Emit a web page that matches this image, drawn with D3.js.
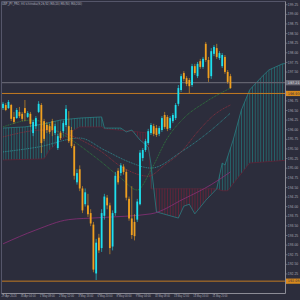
<!DOCTYPE html>
<html>
<head>
<meta charset="utf-8">
<script src="https://cdn.jsdelivr.net/npm/d3@7"></script>
<style>
  html, body { margin: 0; padding: 0; background: #2c2d3c; }
  svg { display: block; }
</style>
</head>
<body>
<script>
// H4 candles
const opens = [
  196.55, 196.63, 196.55, 196.63, 196.32, 196.29, 196.45, 196.40, 196.55, 196.32,
  196.40, 195.90, 196.08, 196.45, 196.63, 196.21, 196.11, 196.08, 196.21, 195.90,
  195.51, 195.90, 195.95, 196.11, 196.08, 195.98, 195.56, 194.62, 194.96, 194.46,
  194.05, 194.02, 193.82, 193.52, 192.25, 193.18, 192.91, 193.75, 194.22, 194.02,
  192.95, 193.82, 194.92, 194.86, 195.03, 194.89, 194.19, 193.68, 193.59, 193.65,
  194.05, 195.25, 195.46, 195.64, 195.90, 196.08, 196.03, 195.88, 195.98, 196.37,
  196.32, 196.03, 196.21, 196.29, 196.66, 197.02, 197.46, 197.33, 197.28, 197.15,
  197.64, 197.38, 197.77, 197.62, 198.22, 197.80, 197.38, 197.96, 198.11, 197.85,
  197.64, 197.88, 197.49, 197.38
];
const highs = [
  196.71, 196.68, 196.76, 196.66, 196.45, 196.55, 196.58, 196.45, 196.76, 196.47,
  196.45, 196.24, 196.34, 196.73, 196.68, 196.27, 196.19, 196.14, 196.27, 196.14,
  195.88, 195.95, 196.21, 196.63, 196.47, 196.06, 195.62, 194.96, 195.06, 194.52,
  194.46, 194.32, 193.92, 193.59, 193.15, 193.28, 193.92, 194.32, 194.29, 194.09,
  193.89, 194.89, 194.99, 195.12, 195.09, 194.96, 194.25, 194.52, 193.79, 194.19,
  195.46, 195.51, 195.75, 196.01, 196.16, 196.14, 196.11, 196.08, 196.34, 196.45,
  196.37, 196.34, 196.42, 196.68, 197.15, 197.44, 197.51, 197.38, 197.33, 197.70,
  197.70, 197.75, 197.83, 197.88, 198.27, 197.88, 198.11, 198.19, 198.22, 198.03,
  197.98, 197.93, 197.54, 197.44
];
const lows = [
  196.50, 196.47, 196.53, 196.21, 196.14, 196.27, 196.29, 196.21, 196.21, 196.29,
  196.06, 195.82, 196.01, 196.42, 195.38, 195.69, 195.90, 195.88, 195.82, 195.85,
  195.46, 195.72, 195.90, 196.06, 195.64, 195.51, 194.69, 194.56, 194.39, 193.82,
  193.99, 193.72, 193.48, 192.28, 192.08, 192.78, 192.81, 193.65, 193.92, 192.75,
  192.85, 193.75, 194.56, 194.79, 194.82, 194.15, 193.62, 193.15, 193.11, 193.59,
  194.02, 195.17, 195.41, 195.59, 195.85, 195.82, 195.80, 195.82, 195.93, 196.01,
  195.95, 195.98, 196.16, 196.24, 196.60, 196.97, 197.25, 197.12, 196.94, 197.10,
  197.41, 197.33, 197.57, 197.57, 197.75, 197.23, 197.31, 197.90, 197.83, 197.80,
  197.59, 197.44, 197.18, 197.05
];
const closes = [
  196.66, 196.50, 196.71, 196.27, 196.19, 196.50, 196.34, 196.27, 196.42, 196.42,
  196.14, 196.19, 196.29, 196.66, 195.64, 195.75, 195.98, 195.93, 195.98, 196.08,
  195.82, 195.77, 196.16, 196.53, 195.69, 195.56, 194.79, 194.86, 194.46, 193.89,
  194.36, 193.79, 193.55, 192.35, 193.05, 192.85, 193.82, 194.25, 194.02, 192.91,
  193.82, 194.79, 194.62, 195.06, 194.89, 194.22, 193.68, 193.25, 193.22, 194.12,
  195.39, 195.46, 195.69, 195.95, 196.11, 195.88, 195.85, 196.03, 196.29, 196.06,
  196.01, 196.29, 196.37, 196.63, 197.07, 197.38, 197.31, 197.18, 197.12, 197.64,
  197.46, 197.70, 197.62, 197.83, 197.80, 197.33, 198.03, 198.14, 197.88, 197.98,
  197.93, 197.49, 197.23, 197.07
];

// ichimoku cloud edges [bar, price], shifted 26 bars ahead
const spanA = [[0, 196.03], [8, 196.06], [15, 196.14], [21, 196.24], [28, 196.29], [36, 196.32],
  [37, 196.03], [43, 196.03], [45, 195.93], [47, 195.98], [50, 195.72], [53, 195.54], [54, 195.10],
  [56, 193.85], [64, 193.69], [66, 194.00], [68, 194.05], [70, 193.80], [74, 194.15], [76, 194.30],
  [78, 194.45], [80, 195.12], [81, 195.07], [84, 195.72], [87, 196.50], [90, 197.02], [94, 197.33],
  [97, 197.54], [102, 197.70], [110, 197.75]];
const spanB = [[0, 195.20], [15, 195.23], [17, 195.46], [21, 195.72], [26, 195.98], [28, 196.06],
  [36, 196.06], [37, 196.01], [47, 195.95], [53, 195.90], [54, 194.45], [78, 194.45], [80, 194.40],
  [82, 194.40], [90, 195.12], [110, 195.23]];

// moving averages [bar, price]
const maGreen = [[0, 196.06], [11, 196.24], [21, 195.90], [35, 195.20], [43, 194.73], [49, 194.42],
  [54, 194.94], [60, 195.77], [66, 196.29], [74, 196.71], [83, 197.07]];
const maRed = [[0, 195.80], [15, 195.98], [35, 195.46], [44, 194.99], [53, 194.78], [59, 195.07],
  [65, 195.41], [71, 195.93], [77, 196.37], [83, 196.63]];
const maTeal = [[0, 195.41], [13, 195.54], [28, 195.77], [37, 195.46], [46, 195.15], [54, 194.99],
  [65, 195.41], [76, 195.98], [83, 196.42]];
const maPurple = [[0, 193.02], [12, 193.38], [24, 193.65], [35, 193.70], [54, 193.80], [66, 194.19],
  [76, 194.56], [83, 194.89]];

// horizontal levels
const bidLevel = 197.21;
const levels = [196.93, 192.05];

const priceTicks = [199.25, 199.00, 198.75, 198.50, 198.25, 198.00, 197.75, 197.50, 197.25, 197.00,
  196.75, 196.50, 196.25, 196.00, 195.75, 195.50, 195.25, 195.00, 194.75, 194.50,
  194.25, 194.00, 193.75, 193.50, 193.25, 193.00, 192.75, 192.50, 192.25, 192.00];
const dateTicks = [0, 7, 14, 21, 28, 35, 42, 49, 56, 63, 70, 77];
const dateLabels = ["29 Apr 2024", "30 Apr 04:00", "1 May 08:00", "2 May 12:00", "3 May 16:00",
  "6 May 20:00", "8 May 00:00", "9 May 04:00", "10 May 08:00", "13 May 12:00", "14 May 16:00", "15 May 20:00"];
const title = "GBP_JPY_PRO, H4  Ichimoku(9,26,52)  MA(20) MA(50) MA(200)";

const W = 300, H = 300;
const plot = {left: 1.5, top: 1.5, right: 285.5, bottom: 293.5};

const x = d3.scaleLinear().domain([0, 110]).range([3, 304.4]);
const y = d3.scaleLinear().domain([199.36, 191.56]).range([0, 300]);
const step = x(1) - x(0);

const svg = d3.select("body").append("svg")
  .attr("width", W)
  .attr("height", H)
  .style("font-family", "DejaVu Sans, sans-serif");

svg.append("rect").attr("width", W).attr("height", H).attr("fill", "#2c2d3c");

const defs = svg.append("defs");
defs.append("clipPath").attr("id", "plotClip").append("rect")
  .attr("x", plot.left).attr("y", plot.top)
  .attr("width", plot.right - plot.left).attr("height", plot.bottom - plot.top);

const makeHatch = (id, color) => {
  const p = defs.append("pattern").attr("id", id)
    .attr("patternUnits", "userSpaceOnUse")
    .attr("x", x(0) - 0.3).attr("y", 0)
    .attr("width", step).attr("height", 4);
  p.append("rect").attr("width", 0.7).attr("height", 4).attr("fill", color);
}
makeHatch("hatchUp", "#22777a");
makeHatch("hatchDn", "#742037");

// clip regions above / below span B, to colour the cloud
const aboveB = d3.area().x(d => x(d[0])).y0(-10).y1(d => y(d[1]));
const belowB = d3.area().x(d => x(d[0])).y0(H + 10).y1(d => y(d[1]));
defs.append("clipPath").attr("id", "clipAbove").append("path").attr("d", aboveB(spanB));
defs.append("clipPath").attr("id", "clipBelow").append("path").attr("d", belowB(spanB));

const line = d3.line().x(d => x(d[0])).y(d => y(d[1]));
const cloudPath = line(spanA) + "L" + line(spanB.slice().reverse()).slice(1) + "Z";

const chart = svg.append("g").attr("clip-path", "url(#plotClip)");

chart.append("g").attr("clip-path", "url(#clipAbove)")
  .append("path").attr("d", cloudPath).attr("fill", "url(#hatchUp)");
chart.append("g").attr("clip-path", "url(#clipBelow)")
  .append("path").attr("d", cloudPath).attr("fill", "url(#hatchDn)");

chart.append("path").datum(spanB)
  .attr("d", line).attr("fill", "none")
  .attr("stroke", "#6e2236").attr("stroke-width", 0.6);
chart.append("path").datum(spanA)
  .attr("d", line).attr("fill", "none")
  .attr("stroke", "#2a8a8c").attr("stroke-width", 0.7);

// horizontal levels
chart.append("line")
  .attr("x1", plot.left).attr("x2", plot.right)
  .attr("y1", y(bidLevel)).attr("y2", y(bidLevel))
  .attr("stroke", "#62626e").attr("stroke-width", 1.3);
chart.selectAll(".level").data(levels).enter().append("line")
  .attr("class", "level")
  .attr("x1", plot.left).attr("x2", plot.right)
  .attr("y1", d => y(d)).attr("y2", d => y(d))
  .attr("stroke", "#c27a22").attr("stroke-width", 1);

// moving averages
const curved = d3.line().x(d => x(d[0])).y(d => y(d[1])).curve(d3.curveMonotoneX);
chart.append("path").datum(maPurple).attr("d", curved)
  .attr("fill", "none").attr("stroke", "#8a2f78").attr("stroke-width", 0.8);
chart.append("path").datum(maTeal).attr("d", curved)
  .attr("fill", "none").attr("stroke", "#2f9c9e").attr("stroke-width", 0.8)
  .attr("stroke-dasharray", "1,0.8");
chart.append("path").datum(maRed).attr("d", curved)
  .attr("fill", "none").attr("stroke", "#9a2e3c").attr("stroke-width", 0.8)
  .attr("stroke-dasharray", "1,0.8");
chart.append("path").datum(maGreen).attr("d", curved)
  .attr("fill", "none").attr("stroke", "#2f8a3e").attr("stroke-width", 0.8)
  .attr("stroke-dasharray", "1,0.8");

// candles
const candles = opens.map((o, i) => ({i: i, o: o, h: highs[i], l: lows[i], c: closes[i]}));
const colour = d => d.c >= d.o ? "#1ee0ee" : "#f0a020";
const bodyW = 1.8;

const cg = chart.selectAll(".candle").data(candles).enter().append("g").attr("class", "candle");
cg.append("line")
  .attr("x1", d => x(d.i)).attr("x2", d => x(d.i))
  .attr("y1", d => y(d.h)).attr("y2", d => y(d.l))
  .attr("stroke", colour).attr("stroke-width", 0.6);
cg.append("rect")
  .attr("x", d => x(d.i) - bodyW / 2)
  .attr("y", d => y(Math.max(d.o, d.c)))
  .attr("width", bodyW)
  .attr("height", d => Math.max(0.6, Math.abs(y(d.o) - y(d.c))))
  .attr("fill", colour);

// frame
svg.append("line").attr("x1", plot.left).attr("x2", plot.right).attr("y1", plot.top).attr("y2", plot.top)
  .attr("stroke", "#55566a").attr("stroke-width", 1);
svg.append("line").attr("x1", plot.left).attr("x2", plot.left).attr("y1", plot.top).attr("y2", plot.bottom)
  .attr("stroke", "#55566a").attr("stroke-width", 1);

// price axis
const boxValues = [bidLevel].concat(levels);
const hidden = d => boxValues.some(v => Math.abs(y(v) - y(d)) < 5.2);
const yAxis = d3.axisRight(y).tickValues(priceTicks).tickSize(2).tickFormat(d3.format(".2f"));
const ya = svg.append("g").attr("transform", `translate(${plot.right},0)`).call(yAxis);
ya.select(".domain").remove();
ya.selectAll("line").attr("stroke", "#8c8c96").attr("stroke-width", 0.6);
ya.selectAll("text")
  .attr("x", 2.3).attr("fill", "#a8a8b4")
  .attr("font-size", 3.4)
  .style("display", d => hidden(d) ? "none" : null);

// time axis
const xAxis = d3.axisBottom(x).tickValues(dateTicks).tickSize(1.5).tickFormat((d, i) => dateLabels[i]);
const xa = svg.append("g").attr("transform", `translate(0,${plot.bottom})`).call(xAxis);
xa.select(".domain").remove();
xa.selectAll("line").attr("stroke", "#8c8c96").attr("stroke-width", 0.6);
xa.selectAll("text")
  .attr("text-anchor", "start")
  .attr("x", -2).attr("y", 0.8).attr("dy", "0.71em")
  .attr("fill", "#a8a8b4").attr("font-size", 3.4)
  .attr("textLength", 15).attr("lengthAdjust", "spacingAndGlyphs");

svg.append("line").attr("x1", plot.right).attr("x2", plot.right).attr("y1", plot.top).attr("y2", plot.bottom)
  .attr("stroke", "#8c8c96").attr("stroke-width", 1);
svg.append("line").attr("x1", plot.left).attr("x2", plot.right).attr("y1", plot.bottom).attr("y2", plot.bottom)
  .attr("stroke", "#8c8c96").attr("stroke-width", 1);

// price boxes for the levels
const boxes = [{v: bidLevel, fill: "#6a6a76", text: "#e0e0e6"}]
  .concat(levels.map(v => ({v: v, fill: "#d88a1e", text: "#2c2d3c"})));
const bx = svg.selectAll(".pbox").data(boxes).enter().append("g").attr("class", "pbox");
bx.append("rect")
  .attr("x", plot.right + 0.5).attr("y", d => y(d.v) - 2.6)
  .attr("width", W - plot.right).attr("height", 5.2)
  .attr("fill", d => d.fill);
bx.append("text")
  .attr("x", plot.right + 2.3).attr("y", d => y(d.v)).attr("dy", "0.35em")
  .attr("font-size", 3.4).attr("fill", d => d.text)
  .text(d => d3.format(".2f")(d.v));

// title
svg.append("text")
  .attr("x", 2).attr("y", 5)
  .attr("font-size", 4).attr("fill", "#b0b0bc")
  .attr("textLength", 80).attr("lengthAdjust", "spacingAndGlyphs")
  .text(title);
</script>
</body>
</html>
